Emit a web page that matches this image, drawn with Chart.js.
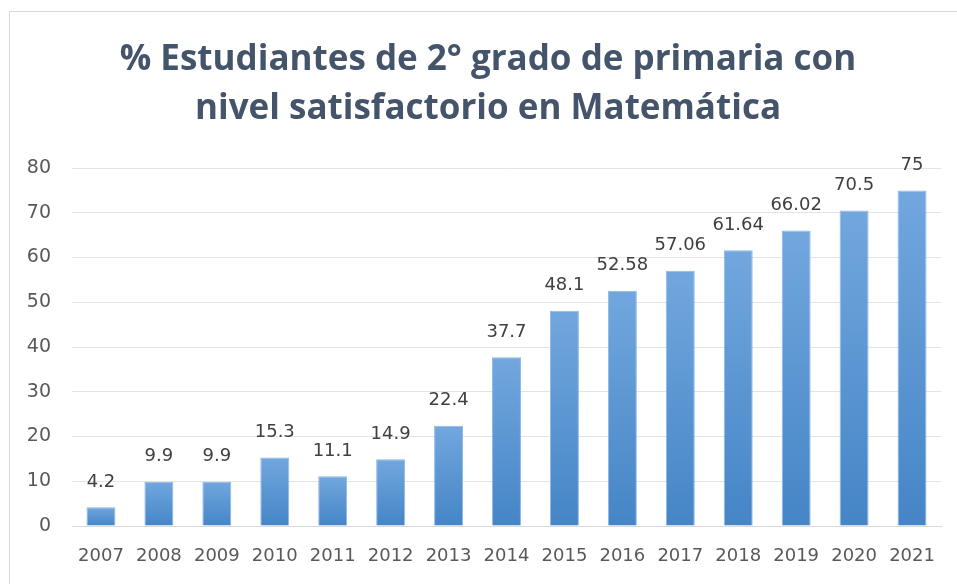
<!DOCTYPE html>
<html>
<head>
<meta charset="utf-8">
<script src="https://cdn.jsdelivr.net/npm/chart.js@4.4.0/dist/chart.umd.min.js"></script>
<style>
  html, body { margin: 0; padding: 0; background: #ffffff; overflow: hidden; }
  #wrap { position: relative; width: 957px; height: 584px; }
  #frame { position: absolute; left: 9px; top: 11px; width: 1000px; height: 700px;
           border-left: 1px solid #D9D9D9; border-top: 1px solid #D9D9D9; box-sizing: border-box; }
  canvas { position: absolute; left: 0; top: 0; }
</style>
</head>
<body>
<div id="wrap">
  <div id="frame"></div>
  <canvas id="c" width="957" height="584"></canvas>
</div>
<script>
const titleLines = ['% Estudiantes de 2° grado de primaria con', 'nivel satisfactorio en Matemática'];
const years = ['2007','2008','2009','2010','2011','2012','2013','2014','2015','2016','2017','2018','2019','2020','2021'];
const values = [4.2, 9.9, 9.9, 15.3, 11.1, 14.9, 22.4, 37.7, 48.1, 52.58, 57.06, 61.64, 66.02, 70.5, 75];
const valueLabels = ['4.2','9.9','9.9','15.3','11.1','14.9','22.4','37.7','48.1','52.58','57.06','61.64','66.02','70.5','75'];
const yTicks = [0, 10, 20, 30, 40, 50, 60, 70, 80];

const TITLE_FONT = '"Open Sans", Lato, "Liberation Sans", sans-serif';
const FONT = '"DejaVu Sans", "Liberation Sans", sans-serif';

function barGradient(ctx) {
  const chart = ctx.chart;
  const sy = chart.scales && chart.scales.y;
  if (!chart.chartArea || !sy || ctx.type !== 'data') return '#5B9BD5';
  const top = sy.getPixelForValue(ctx.raw);
  const base = sy.getPixelForValue(0);
  if (!isFinite(top) || !isFinite(base) || top === base) return '#5B9BD5';
  const g = chart.ctx.createLinearGradient(0, top, 0, base);
  g.addColorStop(0, '#72A7DE');
  g.addColorStop(1, '#4585C6');
  return g;
}

const titlePlugin = {
  id: 'customTitle',
  afterDraw(chart) {
    const c = chart.ctx;
    c.save();
    c.font = 'bold 35px ' + TITLE_FONT;
    c.fillStyle = '#44546A';
    c.textAlign = 'center';
    c.textBaseline = 'middle';
    titleLines.forEach((t, i) => c.fillText(t, 488, 60 + i * 49));
    c.restore();
  }
};

const valueLabelPlugin = {
  id: 'valueLabels',
  afterDatasetsDraw(chart) {
    const meta = chart.getDatasetMeta(0);
    const c = chart.ctx;
    c.save();
    c.font = '18px ' + FONT;
    c.fillStyle = '#404040';
    c.textAlign = 'center';
    c.textBaseline = 'middle';
    meta.data.forEach((bar, i) => {
      c.fillText(valueLabels[i], bar.x, bar.y - 25);
    });
    c.restore();
  }
};

new Chart(document.getElementById('c'), {
  type: 'bar',
  data: {
    labels: years,
    datasets: [{
      data: values,
      backgroundColor: barGradient,
      borderColor: '#8DB8E6',
      borderWidth: 1,
      barPercentage: 0.5,
      categoryPercentage: 1.0
    }]
  },
  options: {
    responsive: false,
    animation: false,
    layout: { padding: { left: 10, right: 16, top: 168, bottom: 0 } },
    plugins: {
      legend: { display: false },
      tooltip: { enabled: false },
      title: { display: false }
    },
    scales: {
      x: {
        grid: { display: false, drawTicks: false },
        border: { display: true, color: '#D9D9D9', width: 1 },
        ticks: { color: '#595959', font: { family: FONT, size: 18 }, padding: 20, maxRotation: 0 },
        afterFit(s) { s.height = 58; }
      },
      y: {
        min: 0, max: 80,
        afterBuildTicks(s) { s.ticks = yTicks.map(v => ({ value: v })); },
        grid: { color: '#E4E4E4', drawTicks: false },
        border: { display: false },
        ticks: { color: '#595959', font: { family: FONT, size: 19 }, padding: 21 },
        afterFit(s) { s.width = 62; }
      }
    }
  },
  plugins: [valueLabelPlugin, titlePlugin]
});
</script>
</body>
</html>
